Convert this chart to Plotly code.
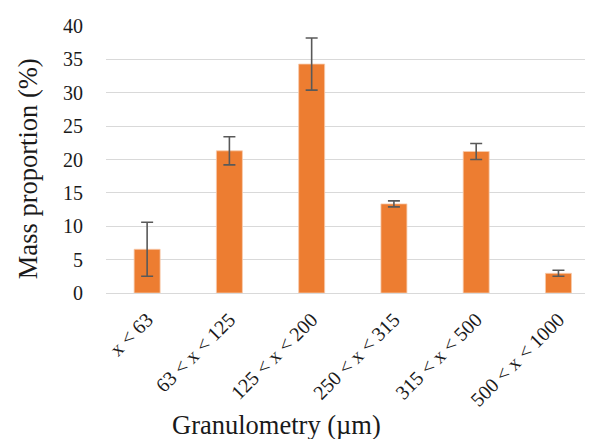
import plotly.graph_objects as go

categories = ["x < 63", "63 < x < 125", "125 < x < 200", "250 < x < 315", "315 < x < 500", "500 < x < 1000"]
values = [6.55, 21.3, 34.3, 13.35, 21.2, 2.95]
errors = [4.05, 2.1, 3.9, 0.45, 1.2, 0.45]
y_ticks = [0, 5, 10, 15, 20, 25, 30, 35, 40]

FONT = "Liberation Serif"

fig = go.Figure(go.Bar(
    x=categories,
    y=values,
    width=0.316,
    marker=dict(color="#ED7D31", line=dict(color="#F8CBAD", width=0.8)),
    error_y=dict(type="data", array=errors, visible=True, color="#595959", thickness=1.6, width=6),
))

fig.update_layout(
    width=593, height=439,
    margin=dict(l=98, r=8, t=18, b=154),
    paper_bgcolor="white", plot_bgcolor="white",
    font=dict(family=FONT, color="#1a1a1a"),
    showlegend=False,
    annotations=[
        dict(text="Granulometry (µm)", xref="paper", yref="paper", x=0.35, y=-0.494,
             xanchor="center", yanchor="middle", showarrow=False,
             font=dict(size=26.5, family=FONT, color="#1a1a1a")),
        dict(text="Mass proportion (%)", xref="paper", yref="paper", x=-0.160, y=0.464,
             xanchor="center", yanchor="middle", showarrow=False, textangle=-90,
             font=dict(size=26.5, family=FONT, color="#1a1a1a")),
    ],
)
fig.update_xaxes(
    range=[-0.5, 5.42],
    automargin=False,
    tickangle=-45,
    tickfont=dict(size=20, family=FONT, color="#1a1a1a"),
    showgrid=False, zeroline=False, showline=False, ticks="",
    ticklabelstandoff=10,
)
fig.update_yaxes(
    range=[0, 40],
    automargin=False,
    tickvals=y_ticks,
    tickfont=dict(size=20, family=FONT, color="#1a1a1a"),
    showgrid=True, gridcolor="#D9D9D9", gridwidth=1.3,
    zeroline=True, zerolinecolor="#D9D9D9", zerolinewidth=1.3,
    showline=False, ticks="", ticklabelstandoff=22,
)

fig.write_html("out.html")
